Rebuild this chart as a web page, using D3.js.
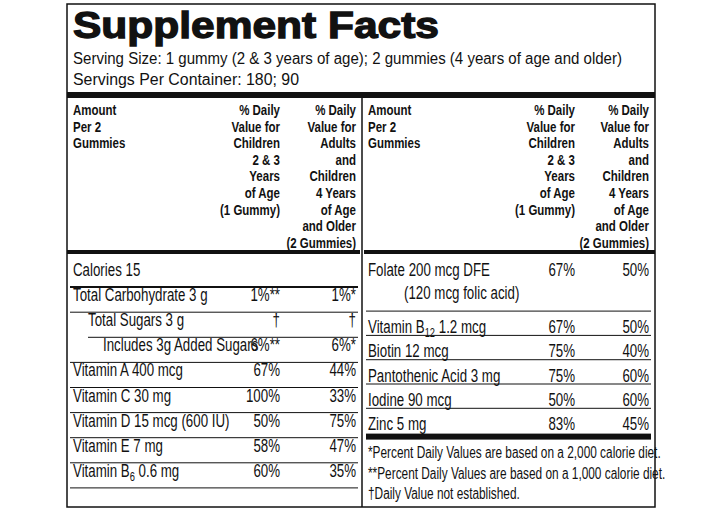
<!DOCTYPE html>
<html><head><meta charset="utf-8">
<script src="https://cdn.jsdelivr.net/npm/d3@7"></script>
<style>
body{margin:0;background:#fff}
text{font-family:"Liberation Sans",Arial,sans-serif;fill:#111}
</style></head><body>
<svg id="label" width="720" height="520"></svg>
<script>
// Left panel nutrients
const leftNames = ["Calories 15","Total Carbohydrate 3 g","Total Sugars 3 g","Includes 3g Added Sugars","Vitamin A 400 mcg","Vitamin C 30 mg","Vitamin D 15 mcg (600 IU)","Vitamin E 7 mg","Vitamin B|6| 0.6 mg"];
const leftIndent = [0,0,1,2,0,0,0,0,0];
const leftChild = ["","1%**","†","6%**","67%","100%","50%","58%","60%"];
const leftAdult = ["","1%*","†","6%*","44%","33%","75%","47%","35%"];
// Right panel nutrients
const rightNames = ["Folate 200 mcg DFE","Vitamin B|12| 1.2 mcg","Biotin 12 mcg","Pantothenic Acid 3 mg","Iodine 90 mcg","Zinc 5 mg"];
const rightSub = ["(120 mcg folic acid)","","","","",""];
const rightChild = ["67%","67%","75%","75%","50%","83%"];
const rightAdult = ["50%","50%","40%","60%","60%","45%"];
const headAmount = ["Amount","Per 2","Gummies"];
const headChild = ["% Daily","Value for","Children","2 & 3","Years","of Age","(1 Gummy)"];
const headAdult = ["% Daily","Value for","Adults","and","Children","4 Years","of Age","and Older","(2 Gummies)"];
const footnotes = ["*Percent Daily Values are based on a 2,000 calorie diet.","**Percent Daily Values are based on a 1,000 calorie diet.","†Daily Value not established."];

const svg = d3.select("#label");
const L = 67, R = 655, T = 4, B = 507, mid = 362;

// squeeze glyphs horizontally to imitate a condensed face
function condense(sel, f){
  sel.each(function(){
    const w = this.getComputedTextLength();
    if(w>0) d3.select(this).attr("textLength", w*f).attr("lengthAdjust","spacingAndGlyphs");
  });
  return sel;
}

svg.append("rect").attr("x",L).attr("y",T).attr("width",R-L).attr("height",B-T)
  .attr("fill","none").attr("stroke","#111").attr("stroke-width",1.5);

svg.append("text").attr("x",73).attr("y",38).attr("font-weight",900).attr("font-size",37)
  .attr("stroke","#111").attr("stroke-width",1.3).attr("textLength",366).attr("lengthAdjust","spacingAndGlyphs")
  .text("Supplement Facts");
svg.append("text").attr("x",73).attr("y",64).attr("font-size",16)
  .attr("textLength",549).attr("lengthAdjust","spacingAndGlyphs")
  .text("Serving Size:  1 gummy (2 & 3 years of age); 2 gummies (4 years of age and older)");
svg.append("text").attr("x",73).attr("y",85).attr("font-size",16)
  .attr("textLength",226).attr("lengthAdjust","spacingAndGlyphs").text("Servings Per Container: 180; 90");

svg.append("rect").attr("x",L).attr("y",92).attr("width",R-L).attr("height",6).attr("fill","#111");
svg.append("line").attr("x1",mid).attr("x2",mid).attr("y1",98).attr("y2",B).attr("stroke","#111").attr("stroke-width",1.5);

// header
const hy = d3.scaleLinear().domain([0,1]).range([115,131.6]);
function header(x0, x1, x2){
  const g = svg.append("g").attr("font-weight","bold").attr("font-size",14);
  g.selectAll(".a").data(headAmount).join("text").attr("x",x0).attr("y",(d,i)=>hy(i)).text(d=>d);
  g.selectAll(".c").data(headChild).join("text").attr("x",x1).attr("y",(d,i)=>hy(i)).attr("text-anchor","end").text(d=>d);
  g.selectAll(".d").data(headAdult).join("text").attr("x",x2).attr("y",(d,i)=>hy(i)).attr("text-anchor","end").text(d=>d);
  condense(g.selectAll("text"), 0.82);
}
header(73,280,356);
header(368,575,649);
svg.append("rect").attr("x",L).attr("y",250).attr("width",mid-L-2).attr("height",4).attr("fill","#111");
svg.append("rect").attr("x",mid+2).attr("y",250).attr("width",R-mid-2).attr("height",4).attr("fill","#111");

function label(sel, s){
  const parts = s.split("|");
  sel.text(parts[0]);
  if(parts.length>1){
    sel.append("tspan").attr("font-size","70%").attr("dy",4).text(parts[1]);
    sel.append("tspan").attr("dy",-4).text(parts[2]);
  }
  return sel;
}

const F = 0.76;
// left rows
const ly = d3.scaleLinear().domain([0,1]).range([254,279.1]);
const lg = svg.append("g").attr("font-size",17.5);
leftNames.forEach((n,i)=>{
  const base = ly(i)+22;
  condense(label(lg.append("text").attr("x",73+leftIndent[i]*15).attr("y",base), n), F);
  condense(lg.append("text").attr("x",280).attr("y",base).attr("text-anchor","end").text(leftChild[i]), F);
  condense(lg.append("text").attr("x",356).attr("y",base).attr("text-anchor","end").text(leftAdult[i]), F);
  if(i<leftNames.length-1){
    const x1 = (i===2) ? 88 : 70;
    lg.append("line").attr("x1",x1).attr("x2",358).attr("y1",ly(i+1)+8).attr("y2",ly(i+1)+8)
      .attr("stroke","#111").attr("stroke-width",i===0?2:1);
  }
});
lg.append("line").attr("x1",70).attr("x2",358).attr("y1",ly(9)+8).attr("y2",ly(9)+8).attr("stroke","#111");

// right rows
const rightSpan = [2.35,1,1,1,1,1];
const cum = d3.cumsum([0].concat(rightSpan));
const ry = d3.scaleLinear().domain([0,1]).range([254,278.3]);
const rg = svg.append("g").attr("font-size",17.5);
rightNames.forEach((n,i)=>{
  const base = ry(cum[i])+22;
  condense(label(rg.append("text").attr("x",368).attr("y",base), n), F);
  if(rightSub[i]) condense(rg.append("text").attr("x",404).attr("y",base+23).text(rightSub[i]), F);
  condense(rg.append("text").attr("x",575).attr("y",base).attr("text-anchor","end").text(rightChild[i]), F);
  condense(rg.append("text").attr("x",649).attr("y",base).attr("text-anchor","end").text(rightAdult[i]), F);
  if(i<rightNames.length-1)
    rg.append("line").attr("x1",366).attr("x2",651).attr("y1",ry(cum[i+1])).attr("y2",ry(cum[i+1])).attr("stroke","#111");
});
rg.append("rect").attr("x",366).attr("y",ry(cum[6])+1).attr("width",285).attr("height",6).attr("fill","#111");

const fy = d3.scaleLinear().domain([0,1]).range([458,478.5]);
const fg = svg.append("g").attr("font-size",16).selectAll("text").data(footnotes).join("text")
  .attr("x",368).attr("y",(d,i)=>fy(i)).text(d=>d);
condense(fg, 0.74);
</script></body></html>
